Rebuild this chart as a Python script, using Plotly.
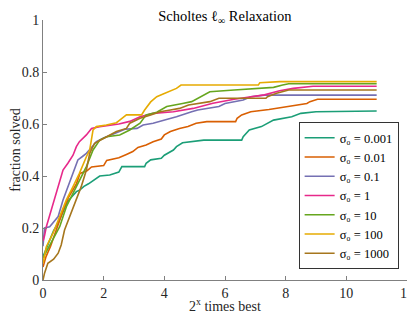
import plotly.graph_objects as go

labels = ["σ₀ = 0.001", "σ₀ = 0.01", "σ₀ = 0.1", "σ₀ = 1",
          "σ₀ = 10", "σ₀ = 100", "σ₀ = 1000"]
colors = ["#1b9e77", "#d95f02", "#7570b3", "#e7298a", "#66a61e", "#e6ab02", "#a6761d"]

x_0001 = [0, 0.1, 0.2, 0.35, 0.5, 0.65, 0.8, 0.95, 1.1, 1.2, 1.35, 1.5, 1.7, 1.87, 2.2, 2.5, 2.6, 3.35, 3.4, 3.55, 3.9, 4.0, 4.3, 4.4, 4.6, 5.3, 6.55, 6.6, 6.8, 7.2, 7.6, 7.9, 8.2, 8.5, 9.0, 11]
y_0001 = [0.09, 0.12, 0.15, 0.19, 0.22, 0.26, 0.3, 0.32, 0.34, 0.345, 0.36, 0.37, 0.385, 0.40, 0.404, 0.415, 0.436, 0.436, 0.449, 0.462, 0.468, 0.48, 0.50, 0.513, 0.528, 0.538, 0.538, 0.551, 0.577, 0.59, 0.615, 0.622, 0.628, 0.641, 0.647, 0.65]

x_001 = [0, 0.1, 0.25, 0.4, 0.55, 0.7, 0.85, 1.0, 1.1, 1.22, 1.45, 1.6, 2.0, 2.1, 2.5, 2.75, 2.96, 3.13, 3.4, 3.63, 3.9, 4.0, 4.2, 4.5, 4.78, 5.05, 5.4, 6.35, 6.4, 6.55, 6.85, 7.45, 8.1, 8.5, 8.7, 8.8, 9.05, 11]
y_001 = [0.05, 0.09, 0.13, 0.18, 0.23, 0.28, 0.32, 0.35, 0.37, 0.41, 0.42, 0.435, 0.44, 0.46, 0.47, 0.483, 0.494, 0.51, 0.519, 0.532, 0.542, 0.558, 0.571, 0.583, 0.59, 0.603, 0.609, 0.609, 0.622, 0.635, 0.647, 0.656, 0.667, 0.673, 0.679, 0.686, 0.695, 0.695]

x_01 = [0, 0.05, 0.22, 0.35, 0.5, 0.66, 0.82, 0.99, 1.15, 1.3, 1.43, 1.6, 1.76, 1.98, 2.42, 2.7, 3.1, 3.3, 3.63, 3.86, 4.1, 4.4, 4.7, 4.9, 5.1, 5.4, 5.8, 6.0, 6.6, 6.85, 7.3, 11]
y_01 = [0.13, 0.2, 0.205, 0.225, 0.244, 0.308, 0.359, 0.417, 0.462, 0.475, 0.487, 0.51, 0.532, 0.545, 0.565, 0.58, 0.583, 0.596, 0.603, 0.609, 0.618, 0.628, 0.641, 0.647, 0.654, 0.66, 0.667, 0.679, 0.692, 0.705, 0.711, 0.711]

x_1 = [0, 0.05, 0.11, 0.27, 0.44, 0.66, 0.82, 0.99, 1.1, 1.2, 1.43, 1.6, 1.87, 2.5, 2.86, 3.2, 3.63, 4.3, 4.95, 5.6, 6.3, 6.9, 7.3, 7.8, 8.25, 8.9, 11]
y_1 = [0.15, 0.17, 0.205, 0.269, 0.333, 0.423, 0.449, 0.48, 0.513, 0.532, 0.558, 0.583, 0.59, 0.6, 0.61, 0.628, 0.641, 0.647, 0.66, 0.68, 0.695, 0.705, 0.712, 0.728, 0.737, 0.745, 0.745]

x_10 = [0, 0.11, 0.33, 0.55, 0.77, 0.99, 1.2, 1.43, 1.65, 1.87, 2.1, 2.53, 2.86, 3.2, 3.4, 3.75, 4.08, 4.4, 4.6, 4.9, 5.2, 5.5, 6.3, 7.0, 7.6, 7.9, 8.1, 11]
y_10 = [0.085, 0.11, 0.154, 0.205, 0.282, 0.333, 0.385, 0.436, 0.5, 0.538, 0.551, 0.558, 0.577, 0.603, 0.635, 0.645, 0.667, 0.673, 0.679, 0.686, 0.705, 0.724, 0.731, 0.737, 0.741, 0.75, 0.755, 0.755]

x_100 = [0, 0.11, 0.33, 0.55, 0.77, 0.99, 1.2, 1.43, 1.54, 1.65, 1.76, 2.09, 2.42, 2.53, 2.75, 3.25, 3.35, 3.55, 3.75, 3.96, 4.17, 4.4, 4.55, 7.1, 7.15, 7.8, 11]
y_100 = [0.065, 0.128, 0.18, 0.244, 0.308, 0.359, 0.41, 0.474, 0.5, 0.577, 0.59, 0.596, 0.605, 0.615, 0.635, 0.635, 0.654, 0.685, 0.705, 0.715, 0.725, 0.737, 0.75, 0.75, 0.759, 0.763, 0.763]

x_1000 = [0, 0.05, 0.16, 0.35, 0.5, 0.6, 0.71, 0.93, 1.1, 1.26, 1.43, 1.54, 1.7, 1.87, 2.1, 2.42, 2.75, 2.86, 3.2, 3.55, 3.86, 4.2, 4.5, 4.8, 5.15, 5.5, 5.8, 7.35, 7.4, 7.7, 8.1, 11]
y_1000 = [0.0, 0.026, 0.064, 0.08, 0.103, 0.135, 0.192, 0.256, 0.308, 0.359, 0.423, 0.487, 0.526, 0.538, 0.551, 0.571, 0.583, 0.603, 0.622, 0.635, 0.647, 0.654, 0.66, 0.673, 0.679, 0.686, 0.699, 0.699, 0.705, 0.718, 0.731, 0.731]

xs = [x_0001, x_001, x_01, x_1, x_10, x_100, x_1000]
ys = [y_0001, y_001, y_01, y_1, y_10, y_100, y_1000]

x_ticks = [0, 2, 4, 6, 8, 10, 12]
y_ticks = [0, 0.2, 0.4, 0.6, 0.8, 1]
y_ticklabels = ["0", "0.2", "0.4", "0.6", "0.8", "1"]
x_title = "2<sup>x</sup> times best"

font = "Liberation Serif"
fig = go.Figure()
for x, y, name, c in zip(xs, ys, labels, colors):
    fig.add_trace(go.Scatter(x=x, y=y, mode="lines", name=name,
                             line=dict(color=c, width=1.6, shape="linear")))

axis_common = dict(showgrid=False, zeroline=False, showline=True, linecolor="#808080",
                   linewidth=1, ticks="inside", ticklen=4, tickcolor="#808080",
                   tickfont=dict(family=font, size=14, color="#262626"), mirror=False,
                   automargin=False, ticklabeloverflow="allow")
fig.update_xaxes(range=[0, 12], tickvals=x_ticks, **axis_common)
fig.update_yaxes(range=[0, 1], tickvals=y_ticks, ticktext=y_ticklabels, **axis_common,
                 title=dict(text="fraction solved", font=dict(family=font, size=14, color="#262626"), standoff=1))

fig.add_annotation(text=x_title, xref="paper", yref="paper", x=0.5, y=0, xanchor="center",
                   yanchor="middle", yshift=-25, showarrow=False,
                   font=dict(family=font, size=14, color="#262626"))

# the page body has an 8px margin, so the figure is sized/placed to compensate
fig.update_layout(
    width=407, height=311,
    margin=dict(l=35, r=8, t=12, b=39),
    paper_bgcolor="white", plot_bgcolor="white",
    title=dict(text="Scholtes ℓ<sub>∞</sub> Relaxation", x=0.533, xanchor="center", y=0.99, yanchor="top",
               font=dict(family=font, size=14.5, color="black")),
    legend=dict(x=0.977, xanchor="right", y=0.042, yanchor="bottom",
                bordercolor="#333333", borderwidth=1, bgcolor="white",
                font=dict(family=font, size=12.5, color="black"),
                itemwidth=30, tracegroupgap=0),
    showlegend=True,
)
fig.write_html("out.html")
